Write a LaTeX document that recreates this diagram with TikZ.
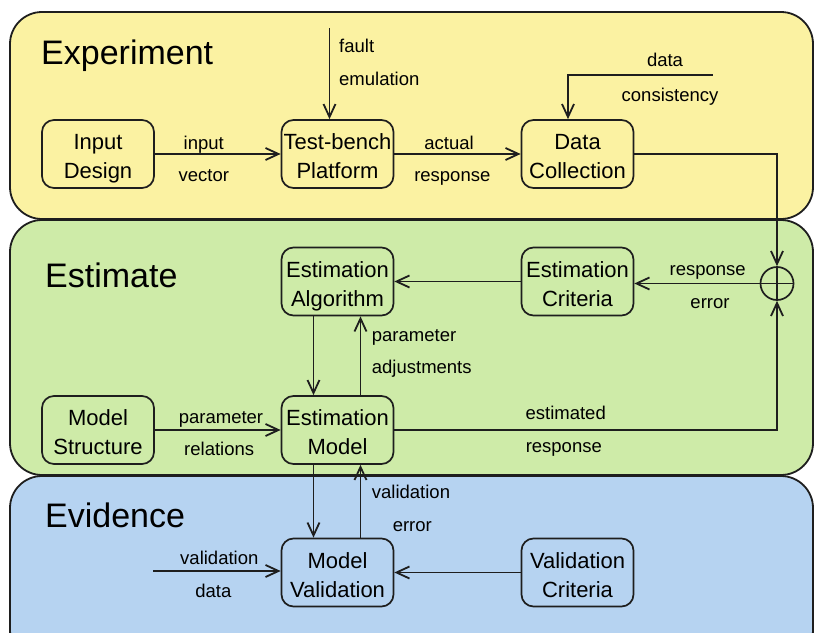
\documentclass[tikz,border=0pt]{standalone}
\usepackage{fontspec}
\setmainfont{Liberation Sans}
\usetikzlibrary{arrows.meta}

\definecolor{expyellow}{RGB}{251,242,162}
\definecolor{estgreen}{RGB}{206,235,168}
\definecolor{evblue}{RGB}{182,211,241}
\definecolor{edge}{RGB}{30,30,30}

% two lines of block text, set a little low in the box
\newcommand{\blocktext}[2]{\raisebox{-4.5pt}[\height][\depth]{\begin{tabular}{@{}c@{}}#1\\#2\end{tabular}}}

\tikzset{
  block/.style={draw=edge, line width=1.7pt, rounded corners=12pt,
    minimum width=112pt, minimum height=68pt, inner sep=0pt,
    font=\fontsize{22}{29}\selectfont},
  lbl/.style={font=\fontsize{18.5}{20}\selectfont, inner sep=0pt, anchor=base},
  lblw/.style={lbl, anchor=base west},
  title/.style={font=\fontsize{34}{36}\selectfont, anchor=base west, inner sep=0pt},
  link/.style={draw=edge, line width=1.8pt, -{Straight Barb[length=13pt,width=12pt]}},
  panel/.style={draw=edge, line width=1.8pt, rounded corners=32pt}
}

\begin{document}
\begin{tikzpicture}[x=1pt,y=-1pt]
  \useasboundingbox (0,0) rectangle (814,632);

  %draw panels
  \draw[panel, fill=expyellow] (10,12) rectangle (813,219);
  \draw[panel, fill=estgreen] (10,220) rectangle (813,475);
  \draw[panel, fill=evblue] (10,476) rectangle (813,662);

  %draw titles
  \node[title] (t-exp) at (41,64) {Experiment};
  \node[title] (t-est) at (45,287) {Estimate};
  \node[title] (t-evi) at (45,527.5) {Evidence};

  %draw blocks
  \node[block] (input) at (98,154) {\blocktext{Input}{Design}};
  \node[block] (bench) at (337.5,154) {\blocktext{Test-bench}{Platform}};
  \node[block] (collect) at (577.5,154) {\blocktext{Data}{Collection}};
  \node[block] (algo) at (337.5,281.5) {\blocktext{Estimation}{Algorithm}};
  \node[block] (crit) at (577.5,281.5) {\blocktext{Estimation}{Criteria}};
  \node[block] (struct) at (98,430) {\blocktext{Model}{Structure}};
  \node[block] (model) at (337.5,430) {\blocktext{Estimation}{Model}};
  \node[block] (valid) at (337.5,572.5) {\blocktext{Model}{Validation}};
  \node[block] (vcrit) at (577.5,572.5) {\blocktext{Validation}{Criteria}};

  %draw summing point
  \node[draw=edge, line width=1.7pt, circle, minimum size=33pt, inner sep=0pt] (sum) at (777,283.5) {};
  \draw[draw=edge, line width=1.7pt] (sum.west) -- (sum.east);
  \draw[draw=edge, line width=1.7pt] (sum.north) -- (sum.south);

  %free ends
  \coordinate (faultin) at (329.5,28);
  \coordinate (datain) at (712.5,75);
  \coordinate (validin) at (153,571);

  %draw connectors
  \draw[link] (faultin) -- (faultin |- bench.north);
  \draw[link] (datain) -| ([xshift=-9.5pt]collect.north);
  \draw[link] (input) -- (bench);
  \draw[link] (bench) -- (collect);
  \draw[link] (collect.east) -| (sum.north);
  \draw[link] (sum.west) -- (sum.west -| crit.east);
  \draw[link] (crit) -- (algo);
  \draw[link] ([xshift=-24pt]algo.south) -- ([xshift=-24pt]model.north);
  \draw[link] ([xshift=23pt]model.north) -- ([xshift=23pt]algo.south);
  \draw[link] (struct) -- (model);
  \draw[link] (model.east) -| (sum.south);
  \draw[link] ([xshift=-24pt]model.south) -- ([xshift=-24pt]valid.north);
  \draw[link] ([xshift=23pt]valid.north) -- ([xshift=23pt]model.south);
  \draw[link] (validin) -- (validin -| valid.west);
  \draw[link] (vcrit) -- (valid);

  %draw labels
  \node[lblw] (l-fault) at (339,52.5) {fault};
  \node[lblw] (l-emul) at (339,85.5) {emulation};
  \node[lbl] (l-data) at (665,66.7) {data};
  \node[lbl] (l-cons) at (670,101) {consistency};
  \node[lbl] (l-input) at (203.7,149) {input};
  \node[lbl] (l-vector) at (203.8,181.7) {vector};
  \node[lbl] (l-actual) at (449,149) {actual};
  \node[lbl] (l-resp) at (452.3,181.7) {response};
  \node[lbl] (l-resp2) at (707.7,275) {response};
  \node[lbl] (l-err) at (710,308.3) {error};
  \node[lblw] (l-par) at (371.7,341.7) {parameter};
  \node[lblw] (l-adj) at (371.7,373) {adjustments};
  \node[lbl] (l-par2) at (221,423.3) {parameter};
  \node[lbl] (l-rel) at (219.2,455.7) {relations};
  \node[lbl] (l-estd) at (565.7,419) {estimated};
  \node[lbl] (l-resp3) at (563.8,452.3) {response};
  \node[lblw] (l-val) at (371.7,498.3) {validation};
  \node[lbl] (l-err2) at (412.3,531.7) {error};
  \node[lbl] (l-val2) at (219.3,564) {validation};
  \node[lbl] (l-data2) at (213.3,597.3) {data};
\end{tikzpicture}
\end{document}
